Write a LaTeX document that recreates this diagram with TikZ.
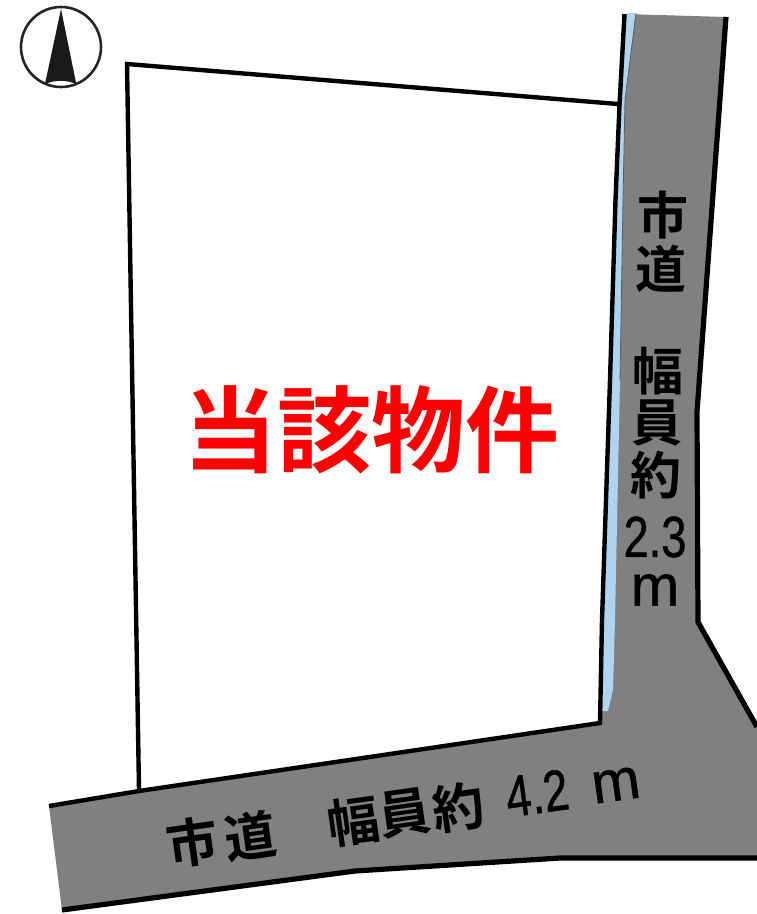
\documentclass[tikz,border=0pt]{standalone}
\usepackage{fontspec}
\newfontfamily\cjk{Noto Sans CJK JP}[BoldFont={* Bold}]
\newfontfamily\latn{Liberation Sans}[FakeBold=0.9]
\definecolor{roadgray}{RGB}{128,128,128}
\definecolor{ditch}{RGB}{176,212,240}
\tikzset{
  edge/.style={line width=4.4pt,line join=miter,line cap=butt},
  roadedge/.style={line width=5.2pt,line join=round},
  vlabel/.style={font=\cjk\bfseries\fontsize{51}{51}\selectfont,text=black,inner sep=0pt},
  blabel/.style={font=\cjk\bfseries\fontsize{52}{52}\selectfont,text=black,inner sep=0pt,rotate=8},
  numlabel/.style={font=\latn\fontsize{58}{58}\selectfont,text=black,inner sep=0pt},
  bnumlabel/.style={numlabel,rotate=8},
}
\begin{document}
\begin{tikzpicture}[x=1pt,y=-1pt]
\useasboundingbox (0,0) rectangle (757,914);
\fill[white] (0,0) rectangle (757,914);
% road
\fill[roadgray] (624,14) -- (726,17) -- (697,412) -- (698,622) -- (757,727) -- (757,858) -- (560,858) -- (355,871) -- (62,910) -- (49,806) -- (601,723) -- cycle;
% ditch
\fill[ditch] (627,13) -- (636,13) -- (625,100) -- (623,200) -- (620,380) -- (615,620) -- (613,690) -- (608,711) -- (601,711) -- (602,620) -- (610,380) -- (615.5,200) -- (619,105) -- cycle;
\draw[line width=0.8pt,ditch!45!black] (636,13) -- (625,100) -- (623,200) -- (620,380);
% parcel
\draw[edge] (618,104) -- (127,64) -- (139,790);
\draw[edge] (49,806) -- (139,791) -- (600,723) -- (602,620) -- (610,380) -- (615.5,200) -- (619.5,105) -- (624.5,14);
\draw[roadedge] (726,17) -- (697,412) -- (698,622) -- (757,727);
\draw[roadedge] (62,910) -- (355,871) -- (560,858) -- (757,858);
% north mark
\coordinate (north) at (61,47);
\draw[line width=2.6pt,black!85] (north) circle[radius=40];
\fill[black!90] (61,9) -- (45,84) arc[start angle=247,end angle=293,radius=40] -- cycle;
% labels
\node[inner sep=0pt,text=red] (prop) at (371,430) {\cjk\bfseries\fontsize{94}{94}\selectfont 当該物件};
\node[vlabel] (v1) at (663,215) {市};
\node[vlabel] (v2) at (661,269) {道};
\node[vlabel] (v3) at (658,371) {幅};
\node[vlabel] (v4) at (657,423) {員};
\node[vlabel] (v5) at (656,475) {約};
\node[numlabel] (v6) at (655,537) {\scalebox{0.78}[1]{2.3}};
\node[numlabel] (v7) at (655,590) {m};
\node[blabel] (b1) at (192,842) {市};
\node[blabel] (b2) at (250,836) {道};
\node[blabel] (b3) at (353,821) {幅};
\node[blabel] (b4) at (405,813) {員};
\node[blabel] (b5) at (458,807) {約};
\node[bnumlabel] (b6) at (537,793) {\scalebox{0.78}[1]{4.2}};
\node[bnumlabel] (b7) at (616,785) {m};
\end{tikzpicture}
\end{document}
